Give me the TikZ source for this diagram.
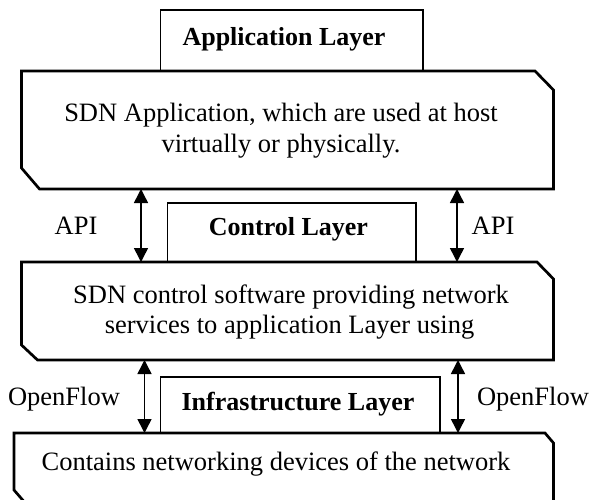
\documentclass[tikz,border=0pt]{standalone}
\usepackage{fontspec}
\setmainfont{Liberation Serif}
\usetikzlibrary{arrows.meta}

\tikzset{
  layerbox/.style={draw, line width=2.7pt, line join=miter, fill=white},
  tabbox/.style={draw, line width=1.3pt, fill=white},
  bodytext/.style={font=\fontsize{26.5}{31}\selectfont, anchor=base, inner sep=0pt},
  tabtext/.style={font=\fontsize{26}{30}\selectfont\bfseries, anchor=base, inner sep=0pt},
  apiarrow/.style={line width=1.5pt, {Triangle[length=14pt,width=14pt]}-{Triangle[length=14pt,width=14pt]}}
}

\begin{document}
\begin{tikzpicture}[x=1pt,y=-1pt]
\useasboundingbox (0,0) rectangle (590,499);
\clip (0,0) rectangle (590,499);

% Application layer: tab and chamfered box
\draw[tabbox] (160.5,71) -- (160.5,10) -- (423,10) -- (423,71);
\node[tabtext] (apptitle) at (284,45) {Application Layer};
\draw[layerbox] (21.5,71) -- (535,71) -- (553.5,90) -- (553.5,189) -- (39.5,189) -- (21.5,168) -- cycle;
\node[bodytext] (apptext1) at (281,121) {SDN Application, which are used at host};
\node[bodytext] (apptext2) at (281,152) {virtually or physically.};

% Control layer
\draw[tabbox] (167.5,262) -- (167.5,203) -- (416,203) -- (416,262);
\node[tabtext] (ctltitle) at (288.5,235) {Control Layer};
\draw[layerbox] (21.5,262) -- (537,262) -- (553.5,279) -- (553.5,360) -- (37.5,360) -- (21.5,345) -- cycle;
\node[bodytext] (ctltext1) at (291,303) {SDN control software providing network};
\node[bodytext] (ctltext2) at (289.5,333) {services to application Layer using};

% Infrastructure layer
\draw[tabbox] (160.5,433) -- (160.5,377) -- (440,377) -- (440,433);
\node[tabtext] (inftitle) at (298,410) {Infrastructure Layer};
\draw[layerbox] (14,433) -- (545,433) -- (553.5,443) -- (553.5,520) -- (40,520) -- (14,490) -- cycle;
\node[bodytext] (inftext) at (276,470) {Contains networking devices of the network};

% Interface end points on the layer boxes
\coordinate (apiLtop) at (141,189);
\coordinate (apiLbot) at (141,262);
\coordinate (apiRtop) at (457,189);
\coordinate (apiRbot) at (457,262);
\coordinate (ofLtop) at (144.5,360);
\coordinate (ofLbot) at (144.5,433);
\coordinate (ofRtop) at (458,360);
\coordinate (ofRbot) at (458,433);

% Northbound and southbound interfaces
\draw[apiarrow] (apiLtop) -- (apiLbot);
\draw[apiarrow] (apiRtop) -- (apiRbot);
\draw[apiarrow] (ofLtop) -- (ofLbot);
\draw[apiarrow] (ofRtop) -- (ofRbot);

\node[bodytext] (apiL) at (76,234) {API};
\node[bodytext] (apiR) at (493,234) {API};
\node[bodytext] (ofL) at (64,405) {OpenFlow};
\node[bodytext] (ofR) at (533,405) {OpenFlow};
\end{tikzpicture}
\end{document}
